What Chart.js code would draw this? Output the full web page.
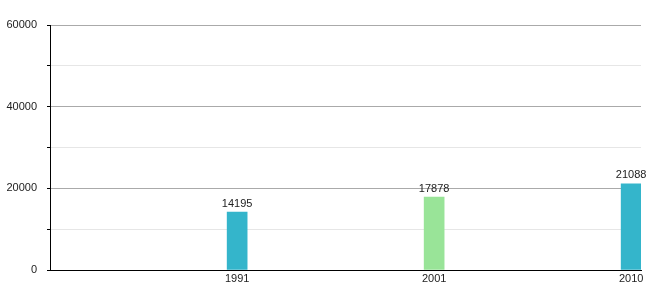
<!DOCTYPE html>
<html>
<head>
<meta charset="utf-8">
<script src="https://cdn.jsdelivr.net/npm/chart.js@4/dist/chart.umd.min.js"></script>
<style>
    html, body { margin: 0; padding: 0; background: #fff; }
    #wrap { width: 660px; height: 300px; }
</style>
</head>
<body>
<div id="wrap"><canvas id="chart" width="660" height="300"></canvas></div>
<script>
const years = ['1991', '2001', '2010'];
const population = [14195, 17878, 21088];
const barColors = ['#34b5cb', '#99e498', '#34b5cb'];
const yTickStep = 10000;
const yLabelStep = 20000;
const yMax = 60000;

// labels drawn over each bar
const barValueLabels = {
    id: 'barValueLabels',
    afterDatasetsDraw(chart) {
        const ctx = chart.ctx;
        const meta = chart.getDatasetMeta(0);
        ctx.save();
        ctx.font = '11px "Liberation Sans", Arial, sans-serif';
        ctx.fillStyle = '#222';
        ctx.textAlign = 'center';
        ctx.textBaseline = 'bottom';
        meta.data.forEach((bar, i) => {
            ctx.fillText(String(population[i]), bar.x, bar.y - 3);
        });
        ctx.restore();
    }
};

const points = population.map((v, i) => ({ x: i + 1, y: v }));

new Chart(document.getElementById('chart').getContext('2d'), {
    type: 'bar',
    data: {
        datasets: [{
            data: points,
            backgroundColor: barColors,
            borderColor: barColors,
            borderWidth: 0,
            barThickness: 20
        }]
    },
    plugins: [barValueLabels],
    options: {
        responsive: false,
        animation: false,
        layout: { padding: { left: 0, right: 19, top: 25, bottom: 0 } },
        scales: {
            x: {
                type: 'linear',
                offset: false,
                min: 0.05,
                max: 3.05,
                afterBuildTicks(scale) {
                    scale.ticks = years.map((y, i) => ({ value: i + 1 }));
                },
                afterFit(scale) { scale.height = 30; },
                grid: { display: false, drawTicks: false },
                border: { display: true, color: '#000', width: 1 },
                ticks: {
                    padding: 2,
                    color: '#222',
                    font: { family: '"Liberation Sans", Arial, sans-serif', size: 11 },
                    callback: (v) => years[v - 1] || ''
                }
            },
            y: {
                min: 0,
                max: yMax,
                afterFit(scale) { scale.width = 50; },
                grid: {
                    color: (c) => (c.tick && c.tick.value % yLabelStep === 0) ? '#aaaaaa' : '#e6e6e6',
                    tickColor: '#000',
                    tickLength: 3
                },
                border: { display: true, color: '#000', width: 1 },
                ticks: {
                    stepSize: yTickStep,
                    padding: 10,
                    color: '#222',
                    font: { family: '"Liberation Sans", Arial, sans-serif', size: 11 },
                    callback: (v) => v % yLabelStep === 0 ? String(v) : ''
                }
            }
        },
        plugins: {
            legend: { display: false },
            tooltip: { enabled: false }
        }
    }
});
</script>
</body>
</html>
